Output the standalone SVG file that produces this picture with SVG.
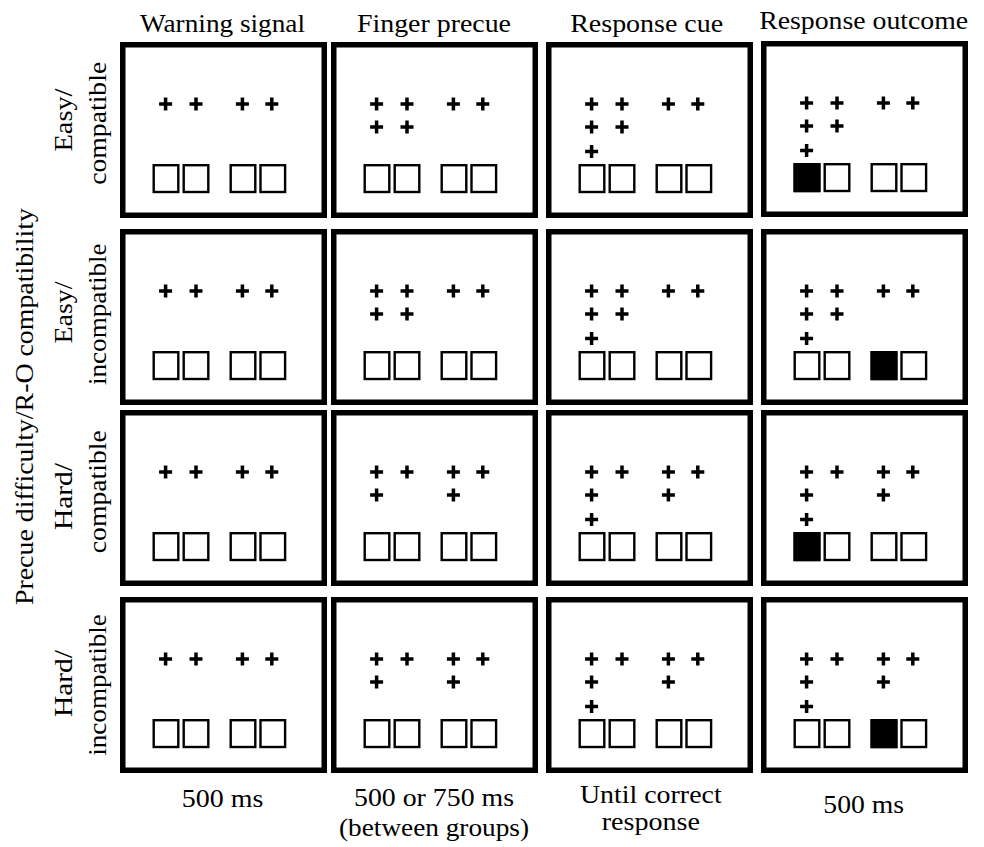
<svg xmlns="http://www.w3.org/2000/svg" width="984" height="847" viewBox="0 0 984 847" font-family="'Liberation Serif', 'Times New Roman', Times, serif">
<style>
.bg{fill:#fff}
.panel{fill:#fff;stroke:#000;stroke-width:5.5}
.sq{fill:#fff;stroke:#000;stroke-width:2.4}
.on{fill:#000}
.plus{fill:none;stroke:#000;stroke-width:3.5}
text{font-family:'Liberation Serif','Times New Roman',Times,serif;font-size:25px;fill:#000;text-anchor:middle}
</style>
<defs>
<path id="plus" class="plus" d="M-6.5,0H6.5M0,-6.5V6.5"/>
<rect id="sq" class="sq" x="1.2" y="1.2" width="24.6" height="26.8"/>
<rect id="sqf" class="sq on" x="1.2" y="1.2" width="24.6" height="26.8"/>
<rect id="frame" class="panel" x="2.75" y="2.75" width="201.5" height="170.5"/>
<g id="base">
<use href="#frame"/>
<use href="#plus" x="45.6" y="62"/><use href="#plus" x="76" y="62"/><use href="#plus" x="122.4" y="62"/><use href="#plus" x="151.8" y="62"/>
</g>
<g id="boxes">
<use href="#sq" x="32.5" y="122"/><use href="#sq" x="62.5" y="122"/><use href="#sq" x="109.5" y="122"/><use href="#sq" x="139.3" y="122"/>
</g>
<g id="easy2"><use href="#plus" x="45.6" y="85"/><use href="#plus" x="76" y="85"/></g>
<g id="hard2"><use href="#plus" x="45.6" y="85"/><use href="#plus" x="122.4" y="85"/></g>
<g id="cue3"><use href="#plus" x="45.6" y="109.5"/></g>
</defs>
<rect class="bg" x="0" y="0" width="984" height="847"/>

<g id="titles">
<text x="222.5" y="31.5" textLength="165" lengthAdjust="spacingAndGlyphs">Warning signal</text>
<text x="434" y="31.5" textLength="154" lengthAdjust="spacingAndGlyphs">Finger precue</text>
<text x="646.7" y="32" textLength="153" lengthAdjust="spacingAndGlyphs">Response cue</text>
<text x="863.7" y="29.3" textLength="209" lengthAdjust="spacingAndGlyphs">Response outcome</text>
</g>

<g id="axis-label">
<text transform="translate(33,406.5) rotate(-90)" textLength="397" lengthAdjust="spacingAndGlyphs">Precue difficulty/R-O compatibility</text>
</g>

<g id="row-labels">
<text transform="translate(72,120) rotate(-90)" textLength="63" lengthAdjust="spacingAndGlyphs">Easy/</text>
<text transform="translate(106,123.3) rotate(-90)" textLength="123" lengthAdjust="spacingAndGlyphs">compatible</text>
<text transform="translate(72,312.5) rotate(-90)" textLength="62" lengthAdjust="spacingAndGlyphs">Easy/</text>
<text transform="translate(106,314.2) rotate(-90)" textLength="141.7" lengthAdjust="spacingAndGlyphs">incompatible</text>
<text transform="translate(72,496.5) rotate(-90)" textLength="67" lengthAdjust="spacingAndGlyphs">Hard/</text>
<text transform="translate(106,491.7) rotate(-90)" textLength="123" lengthAdjust="spacingAndGlyphs">compatible</text>
<text transform="translate(72,683.5) rotate(-90)" textLength="67" lengthAdjust="spacingAndGlyphs">Hard/</text>
<text transform="translate(106,685) rotate(-90)" textLength="141.7" lengthAdjust="spacingAndGlyphs">incompatible</text>
</g>

<g id="panels">
<g id="easy-compatible-warning" transform="translate(120,42)"><use href="#base"/><use href="#boxes"/></g>
<g id="easy-compatible-precue" transform="translate(331,42)"><use href="#base"/><use href="#easy2"/><use href="#boxes"/></g>
<g id="easy-compatible-cue" transform="translate(546,42)"><use href="#base"/><use href="#easy2"/><use href="#cue3"/><use href="#boxes"/></g>
<g id="easy-compatible-outcome" transform="translate(761,41)"><use href="#base"/><use href="#easy2"/><use href="#cue3"/><use href="#boxes"/><use href="#sqf" x="32.5" y="122"/></g>

<g id="easy-incompatible-warning" transform="translate(120,229)"><use href="#base"/><use href="#boxes"/></g>
<g id="easy-incompatible-precue" transform="translate(331,229)"><use href="#base"/><use href="#easy2"/><use href="#boxes"/></g>
<g id="easy-incompatible-cue" transform="translate(546,229)"><use href="#base"/><use href="#easy2"/><use href="#cue3"/><use href="#boxes"/></g>
<g id="easy-incompatible-outcome" transform="translate(761,229)"><use href="#base"/><use href="#easy2"/><use href="#cue3"/><use href="#boxes"/><use href="#sqf" x="109.5" y="122"/></g>

<g id="hard-compatible-warning" transform="translate(120,410)"><use href="#base"/><use href="#boxes"/></g>
<g id="hard-compatible-precue" transform="translate(331,410)"><use href="#base"/><use href="#hard2"/><use href="#boxes"/></g>
<g id="hard-compatible-cue" transform="translate(546,410)"><use href="#base"/><use href="#hard2"/><use href="#cue3"/><use href="#boxes"/></g>
<g id="hard-compatible-outcome" transform="translate(761,410)"><use href="#base"/><use href="#hard2"/><use href="#cue3"/><use href="#boxes"/><use href="#sqf" x="32.5" y="122"/></g>

<g id="hard-incompatible-warning" transform="translate(120,597)"><use href="#base"/><use href="#boxes"/></g>
<g id="hard-incompatible-precue" transform="translate(331,597)"><use href="#base"/><use href="#hard2"/><use href="#boxes"/></g>
<g id="hard-incompatible-cue" transform="translate(546,597)"><use href="#base"/><use href="#hard2"/><use href="#cue3"/><use href="#boxes"/></g>
<g id="hard-incompatible-outcome" transform="translate(761,597)"><use href="#base"/><use href="#hard2"/><use href="#cue3"/><use href="#boxes"/><use href="#sqf" x="109.5" y="122"/></g>
</g>

<g id="durations">
<text x="222.5" y="806.5" textLength="81.6" lengthAdjust="spacingAndGlyphs">500 ms</text>
<text x="434" y="805.5" textLength="160" lengthAdjust="spacingAndGlyphs">500 or 750 ms</text>
<text x="434" y="836" textLength="190" lengthAdjust="spacingAndGlyphs">(between groups)</text>
<text x="650.8" y="802.7" textLength="141.7" lengthAdjust="spacingAndGlyphs">Until correct</text>
<text x="650.8" y="830" textLength="98.3" lengthAdjust="spacingAndGlyphs">response</text>
<text x="863.7" y="813.3" textLength="80.7" lengthAdjust="spacingAndGlyphs">500 ms</text>
</g>
</svg>
